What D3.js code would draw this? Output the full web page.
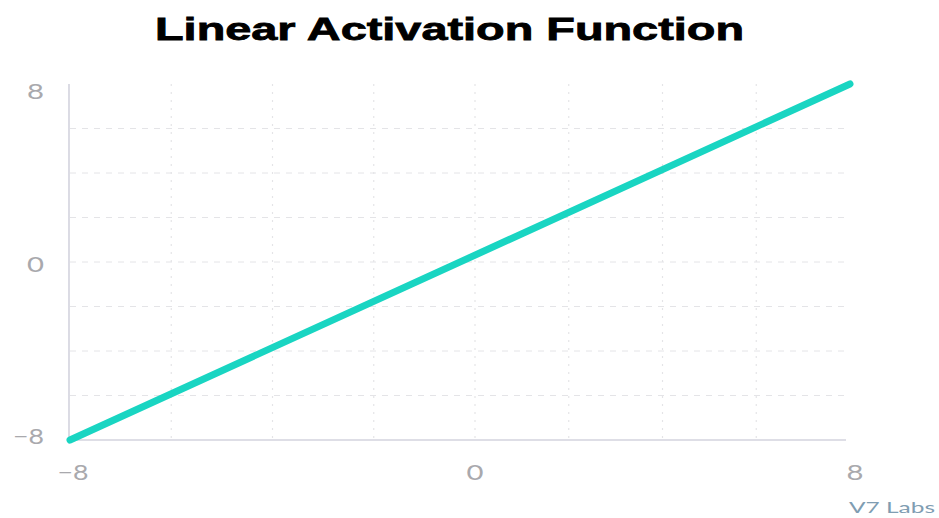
<!DOCTYPE html>
<html><head><meta charset="utf-8">
<script src="https://cdn.jsdelivr.net/npm/d3@7"></script>
<style>body{margin:0;background:#fff}svg{display:block}</style>
</head><body>
<script>
const title = "Linear Activation Function";
const credit = "V7 Labs";
const xValues = [-8, 8];
const yValues = [-8, 8];
const xTickLabels = [-8, 0, 8];
const yTickLabels = [-8, 0, 8];
const xGridTicks = [-6, -4, -2, 0, 2, 4, 6];
const yGridTicks = [-6, -4, -2, 0, 2, 4, 6];

const W = 939, H = 518;
const svg = d3.select("body").append("svg").attr("width", W).attr("height", H);

const x = d3.scaleLinear().domain([-8, 0, 8]).range([70, 475, 850]);
const y = d3.scaleLinear().domain([-8, 8]).range([440, 84]);

// grid
svg.append("g").selectAll("line").data(yGridTicks).join("line")
  .attr("x1", 70).attr("x2", 846).attr("y1", d => y(d)).attr("y2", d => y(d))
  .attr("stroke", "#e4e4e7").attr("stroke-width", 1).attr("stroke-dasharray", "6,6");
svg.append("g").selectAll("line").data(xGridTicks).join("line")
  .attr("y1", 84).attr("y2", 440).attr("x1", d => x(d)).attr("x2", d => x(d))
  .attr("stroke", "#e4e4e7").attr("stroke-width", 1.2).attr("stroke-dasharray", "2,6");

// axes lines
svg.append("line").attr("x1", 69).attr("x2", 69).attr("y1", 84).attr("y2", 440)
  .attr("stroke", "#d3d3de").attr("stroke-width", 1.6);
svg.append("line").attr("x1", 69).attr("x2", 846).attr("y1", 440).attr("y2", 440)
  .attr("stroke", "#d3d3de").attr("stroke-width", 1.6);

// tick labels
const lblFont = "Lato, 'Open Sans', sans-serif";
const fmt = d => d < 0 ? "\u2212" + Math.abs(d) : String(d);
const lblW = d => d < 0 ? 31 : 17;
svg.append("g").selectAll("text").data(yTickLabels).join("text")
  .attr("x", 44).attr("y", d => Math.min(444, Math.max(99, y(d) + 10))).attr("text-anchor", "end")
  .attr("font-family", lblFont).attr("font-size", 21).attr("fill", "#a9a9ad")
  .attr("textLength", lblW).attr("lengthAdjust", "spacingAndGlyphs")
  .text(fmt);
svg.append("g").selectAll("text").data(xTickLabels).join("text")
  .attr("x", d => (d === 8 ? x(d) + 5 : d === -8 ? x(d) + 3 : x(d))).attr("y", 480).attr("text-anchor", "middle")
  .attr("font-family", lblFont).attr("font-size", 21).attr("fill", "#a9a9ad")
  .attr("textLength", lblW).attr("lengthAdjust", "spacingAndGlyphs")
  .text(fmt);

// line
const pts = xValues.map((v, i) => [v, yValues[i]]);
svg.append("path").datum(pts)
  .attr("d", d3.line().x(d => x(d[0])).y(d => y(d[1])))
  .attr("fill", "none").attr("stroke", "#19d5c2").attr("stroke-width", 7)
  .attr("stroke-linecap", "round");

// title
svg.append("text").attr("x", 155).attr("y", 40)
  .attr("font-family", "'Liberation Sans', Arial, sans-serif").attr("font-weight", "bold")
  .attr("font-size", 32).attr("fill", "#000").attr("stroke", "#000").attr("stroke-width", 0.8)
  .attr("textLength", 589).attr("lengthAdjust", "spacingAndGlyphs")
  .text(title);

svg.append("text").attr("x", 849).attr("y", 513)
  .attr("font-family", lblFont).attr("font-size", 16).attr("fill", "#7f9db2")
  .attr("textLength", 86).attr("lengthAdjust", "spacingAndGlyphs")
  .text(credit);
</script>
</body></html>
